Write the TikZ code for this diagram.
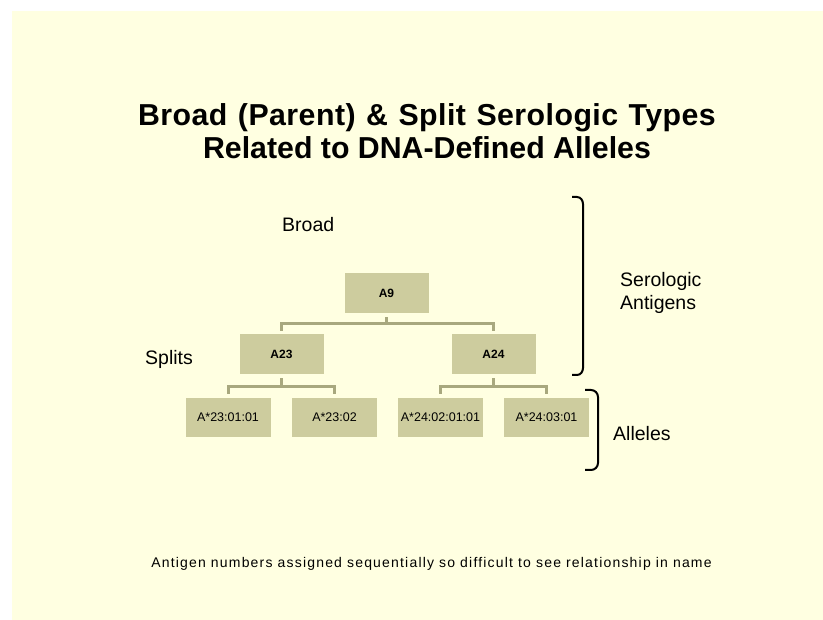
\documentclass[tikz,border=0pt]{standalone}
\usepackage{fontspec}
\setmainfont{Liberation Sans}
\definecolor{pagebg}{RGB}{255,255,225}
\definecolor{boxfill}{RGB}{205,204,158}
\definecolor{connline}{RGB}{168,168,126}
\begin{document}
\begin{tikzpicture}[x=1pt,y=-1pt,
  box/.style={fill=boxfill, minimum width=84pt, minimum height=40pt, inner sep=0pt,
    font=\fontsize{12}{14}\selectfont\bfseries},
  leaf/.style={box, minimum width=85pt, minimum height=39pt,
    font=\fontsize{12.5}{14}\selectfont},
  conn/.style={draw=connline, line width=3pt},
  bracket/.style={draw=black, line width=2pt},
  sidelabel/.style={anchor=base west, inner sep=0pt, font=\fontsize{19.5}{23}\selectfont},
  titleline/.style={anchor=base, inner sep=0pt, font=\fontsize{30.3}{34}\selectfont\bfseries},
]
% page and slide background
\fill[white] (0,0) rectangle (823,620);
\fill[pagebg] (12,11) rectangle (823,620);
\useasboundingbox (0,0) rectangle (823,620);

% title
\node[titleline] (title1) at (427,126)
  {\addfontfeature{LetterSpace=1.5}\spaceskip=10.5pt Broad (Parent) \& Split Serologic Types};
\node[titleline] (title2) at (427,159)
  {Related to DNA-Defined Alleles};

% hierarchy
\node[box] (A9)  at (386.5,293) {A9};
\node[box] (A23) at (281.5,354) {A23};
\node[box] (A24) at (493.5,354) {A24};
\node[leaf] (L1) at (228,417.5)   {A*23:01:01};
\node[leaf] (L2) at (334.5,417.5) {A*23:02};
\node[leaf] (L3) at (440.5,417.5) {A*24:02:01:01};
\node[leaf] (L4) at (546.5,417.5) {A*24:03:01};

% elbow connectors
\draw[conn] ([yshift=-4]A9.south) -- ([yshift=-10.5]A9.south) -| ([yshift=3]A23.north);
\draw[conn] ([yshift=-10.5]A9.south) -| ([yshift=3]A24.north);
\draw[conn] ([yshift=-4]A23.south) -- ([yshift=-12.5]A23.south) -| ([yshift=4]L1.north);
\draw[conn] ([yshift=-12.5]A23.south) -| ([yshift=4]L2.north);
\draw[conn] ([yshift=-4]A24.south) -- ([yshift=-12.5]A24.south) -| ([yshift=4]L3.north);
\draw[conn] ([yshift=-12.5]A24.south) -| ([yshift=4]L4.north);

% level labels
\node[sidelabel] (broad)  at (282,232) {Broad};
\node[sidelabel] (splits) at (145,365) {Splits};
\node[sidelabel] (sero1)  at (620,287) {Serologic};
\node[sidelabel] (sero2)  at (620,310) {Antigens};
\node[sidelabel] (alleles) at (613,441) {Alleles};

% braces
\draw[bracket] (572,197) -- (577,197) to[out=0,in=90] (583,204) -- (583,368)
  to[out=-90,in=0] (577,375) -- (572,375);
\draw[bracket] (585,390) -- (591,390) to[out=0,in=90] (598,397) -- (598,463)
  to[out=-90,in=0] (591,470) -- (585,470);

% footnote
\node[anchor=base, inner sep=0pt, font=\fontsize{14}{16}\selectfont\addfontfeature{LetterSpace=8.5}] (note) at (431.5,567)
  {Antigen numbers assigned sequentially so difficult to see relationship in name};
\end{tikzpicture}
\end{document}
